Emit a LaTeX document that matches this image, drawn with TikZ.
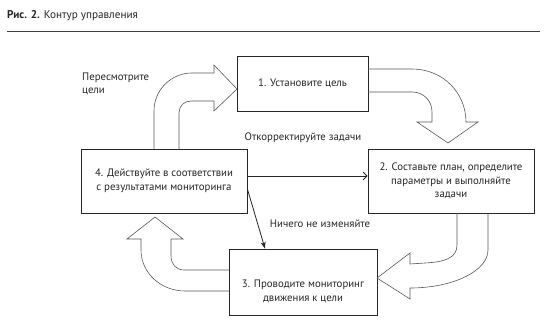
\documentclass[tikz,border=0pt]{standalone}
\usepackage{fontspec}
\setmainfont{PT Sans}
\usetikzlibrary{arrows.meta}
\begin{document}
\begin{tikzpicture}[x=1pt,y=-1pt,
  box/.style={draw=black!85, line width=0.8pt, fill=white, inner sep=0pt},
  txt/.style={font=\fontsize{10.8}{13.5}\selectfont, align=center, text=black!85},
  blockarrow/.style={draw=black!65, line width=0.6pt, line join=miter},
  lbl/.style={font=\fontsize{10.8}{13}\selectfont, text=black!85, inner sep=0pt}]
\useasboundingbox (0,0) rectangle (544,326);
\fill[white] (0,0) rectangle (544,326);
% title
\node[anchor=west, inner sep=0pt, font=\fontsize{11.2}{13}\selectfont, text=black!85] (title) at (7,16) {\textbf{Рис. 2.} Контур управления};
\draw[black!75, line width=1pt] (7,31.5) -- (540,31.5);
% boxes
\node[box, txt, minimum width=131pt, minimum height=55pt] (b1) at (302.5,83.5) {1. Установите цель};
\node[box, txt, minimum width=166pt, minimum height=64pt] (b2) at (451,181) {2. Составьте план, определите\\параметры и выполняйте\\задачи};
\node[box, txt, minimum width=166pt, minimum height=64pt] (b4) at (164,181) {4. Действуйте в соответствии\\с результатами мониторинга};
\node[box, minimum width=148pt, minimum height=66pt] (b3) at (303,282) {};
\node[txt, inner sep=0pt] (t3) at (303,291.5) {3. Проводите мониторинг\\движения к цели};
% block arrows
\draw[blockarrow] (154,149) -- (154,111) .. controls (154,90) and (171,73) .. (192,73) -- (214,73) -- (214,65) -- (237,89) -- (214,111) -- (214,101) -- (191,101) .. controls (184,101) and (179,106) .. (179,113) -- (179,149);
\draw[blockarrow] (368,69) -- (412,69) .. controls (443,69) and (466,93) .. (466,122) -- (478,122) -- (448,143) -- (417,122) -- (432,122) -- (432,112) .. controls (432,101) and (424,92) .. (412,92) -- (368,92);
\draw[blockarrow] (457,213) -- (457,245) .. controls (457,258) and (445,262) .. (425,263) -- (410,264) -- (410,253) -- (377,278) -- (410,299) -- (410,288) .. controls (453,288) and (488,271) .. (488,250) -- (488,213);
\draw[blockarrow] (229,270) -- (184,270) .. controls (176,270) and (171,264) .. (171,256) -- (171,239) -- (183,239) -- (155,217) -- (127,239) -- (141,239) -- (141,250) .. controls (141,273) and (161,291) .. (185,291) -- (229,291);
% connectors
\draw[line width=0.8pt, black!85, -{Straight Barb[length=4pt,width=8pt]}] ([yshift=5pt]b4.east) -- ([yshift=5pt]b2.west);
\draw[line width=0.8pt, black!85, -{Stealth[length=7pt,width=5pt]}] ([yshift=-8pt]b4.east) -- ([xshift=-38pt]b3.north);
% labels
\node[lbl] (l1) at (303,138) {Откорректируйте задачи};
\node[lbl] (l2) at (320,224) {Ничего не изменяйте};
\node[lbl, anchor=north west, align=left] (l3) at (82,73) {Пересмотрите\\цели};
\end{tikzpicture}
\end{document}
